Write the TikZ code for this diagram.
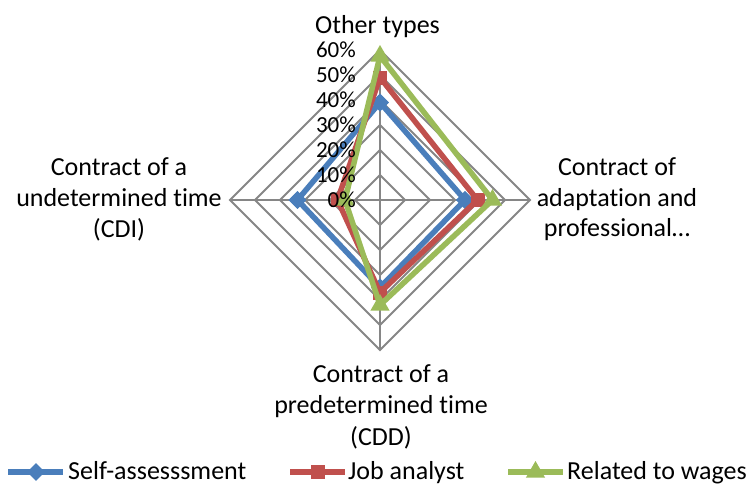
\documentclass[tikz,border=0pt]{standalone}
\usepackage{fontspec}
\setmainfont{Carlito}[Ligatures=NoCommon]
\usetikzlibrary{shapes.geometric}
\definecolor{sblue}{HTML}{4A7EBB}
\definecolor{sred}{HTML}{C0504D}
\definecolor{sgreen}{HTML}{9BBB59}
\definecolor{gridgray}{HTML}{868686}
\tikzset{
  gridline/.style={draw=gridgray, line width=2pt},
  serline/.style={line width=5.5pt, line join=round},
  bmark/.style={diamond, fill=sblue, inner sep=0pt, minimum width=18pt, minimum height=18pt},
  rmark/.style={rectangle, fill=sred, inner sep=0pt, minimum size=14pt},
  gmark/.style={regular polygon, regular polygon sides=3, fill=sgreen, inner sep=0pt, minimum size=22pt},
  lab/.style={font=\fontsize{26}{31}\selectfont, inner sep=0pt, anchor=base},
  tick/.style={font=\fontsize{23}{27}\selectfont, inner sep=0pt, anchor=east},
  leg/.style={font=\fontsize{26}{31}\selectfont, inner sep=0pt, anchor=base west},
}
\begin{document}
\begin{tikzpicture}[x=1pt,y=-1pt]
\useasboundingbox[fill=white] (0,0) rectangle (756,485);
% grid
\foreach \k in {25,50,75,100,125,150}{
  \draw[gridline] (380,200-\k) -- (380+\k,200) -- (380,200+\k) -- (380-\k,200) -- cycle;
}
\coordinate (C) at (380,200);
\draw[gridline] (C) -- (380,50);
\draw[gridline] (C) -- (530,200);
\draw[gridline] (C) -- (380,350);
\draw[gridline] (C) -- (230,200);
% blue series
\node[bmark] (b1) at (380,102.5) {};
\node[bmark] (b2) at (465,200) {};
\node[bmark] (b3) at (380,287.5) {};
\node[bmark] (b4) at (297.5,200) {};
\draw[serline, sblue] (b1.center) -- (b2.center) -- (b3.center) -- (b4.center) -- cycle;
\node[bmark] at (b1) {};\node[bmark] at (b2) {};\node[bmark] at (b3) {};\node[bmark] at (b4) {};
% red series
\coordinate (r1) at (380,77.5);
\coordinate (r2) at (477.5,200);
\coordinate (r3) at (380,292.5);
\coordinate (r4) at (337.5,200);
\draw[serline, sred] (r1) -- (r2) -- (r3) -- (r4) -- cycle;
\node[rmark] (rm1) at (r1) {};\node[rmark] (rm2) at (r2) {};\node[rmark] (rm3) at (r3) {};\node[rmark] (rm4) at (r4) {};
% green series
\coordinate (g1) at (380,56);
\coordinate (g2) at (492.5,200);
\coordinate (g3) at (380,305);
\coordinate (g4) at (345,200);
\draw[serline, sgreen] (g1) -- (g2) -- (g3) -- (g4) -- cycle;
\node[gmark] (gm1) at (g1) {};\node[gmark] (gm2) at (g2) {};\node[gmark] (gm3) at (g3) {};\node[gmark] (gm4) at (g4) {};
% tick labels
\node[tick] (t0) at (356,200) {0\%};
\node[tick] (t1) at (356,175) {10\%};
\node[tick] (t2) at (356,150) {20\%};
\node[tick] (t3) at (356,125) {30\%};
\node[tick] (t4) at (356,100) {40\%};
\node[tick] (t5) at (356,75) {50\%};
\node[tick] (t6) at (356,50) {60\%};
% axis labels
\node[lab] (top) at (377.5,33) {Other types};
\node[lab] (l1) at (119,175) {Contract of a};
\node[lab] (l2) at (119,206) {undetermined time};
\node[lab] (l3) at (119,237) {(CDI)};
\node[lab] (rr1) at (617,175) {Contract of};
\node[lab] (rr2) at (617,206) {adaptation and};
\node[lab] (rr3) at (617,236) {professional\dots};
\node[lab] (d1) at (381,382) {Contract of a};
\node[lab] (d2) at (381,413) {predetermined time};
\node[lab] (d3) at (381,445) {(CDD)};
% legend
\coordinate (lb1) at (8,472); \coordinate (lb2) at (63,472);
\draw[serline, sblue] (lb1) -- (lb2);
\node[bmark] (lbm) at (36,472) {};
\node[leg] (lbt) at (68,479) {Self-assesssment};
\coordinate (lr1) at (290,472); \coordinate (lr2) at (345,472);
\draw[serline, sred] (lr1) -- (lr2);
\node[rmark] (lrm) at (317.5,472) {};
\node[leg] (lrt) at (348,479) {Job analyst};
\coordinate (lg1) at (508,472); \coordinate (lg2) at (563,472);
\draw[serline, sgreen] (lg1) -- (lg2);
\node[gmark] (lgm) at (535.5,472) {};
\node[leg] (lgt) at (567,479) {Related to wages};
\end{tikzpicture}
\end{document}
